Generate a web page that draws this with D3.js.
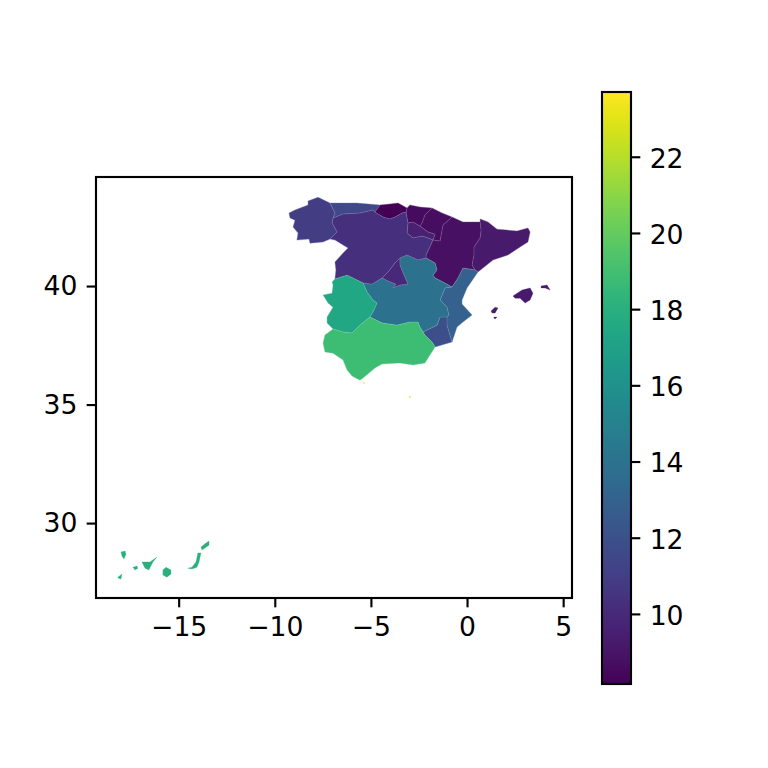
<!DOCTYPE html>
<html><head><meta charset="utf-8">
<script src="https://cdn.jsdelivr.net/npm/d3@7/dist/d3.min.js"></script>
<style>html,body{margin:0;padding:0;background:#fff}svg{display:block}text{font-family:"DejaVu Sans",sans-serif}</style>
</head><body><svg id="c" width="768" height="768"></svg>
<script>
const xTicks=[-15,-10,-5,0,5];
const yTicks=[30,35,40];
const cbTicks=[10,12,14,16,18,20,22];
const xDomain=[-19.30,5.46];
const yDomain=[26.84,44.60];
const cDomain=[8.16,23.7];

const galicia=[[[-7.13,43.50],[-6.87,43.08],[-6.97,42.87],[-7.02,42.66],[-6.76,42.28],[-7.13,41.98],[-7.49,41.86],[-8.17,41.81],[-8.22,41.98],[-8.85,41.94],[-8.79,42.24],[-9.05,42.49],[-8.95,42.78],[-9.21,42.87],[-9.26,43.08],[-8.95,43.21],[-8.27,43.42],[-8.27,43.59],[-7.75,43.75]]];
const asturias=[[[-7.13,43.50],[-6.61,43.50],[-5.72,43.50],[-4.53,43.42],[-4.63,43.29],[-4.79,43.12],[-4.89,43.21],[-5.57,43.08],[-6.45,43.04],[-6.97,42.87],[-6.87,43.08]]];
const cantabria=[[[-4.63,43.29],[-4.53,43.42],[-4.01,43.46],[-3.59,43.50],[-3.12,43.29],[-3.17,43.12],[-3.38,43.08],[-3.75,42.91],[-4.01,42.83],[-4.37,42.91],[-4.79,43.12]]];
const paisVasco=[[[-3.12,43.29],[-2.97,43.42],[-2.45,43.33],[-1.82,43.29],[-2.19,43.00],[-2.34,42.66],[-2.45,42.53],[-2.81,42.70],[-3.07,42.66],[-3.12,42.87],[-3.17,43.12]]];
const navarra=[[[-1.82,43.29],[-1.30,43.08],[-0.78,42.91],[-1.25,42.57],[-1.35,42.15],[-1.40,41.90],[-1.77,41.94],[-1.66,42.19],[-2.03,42.28],[-2.45,42.53],[-2.34,42.66],[-2.19,43.00]]];
const rioja=[[[-3.07,42.66],[-2.81,42.70],[-2.45,42.53],[-2.03,42.28],[-1.66,42.19],[-1.77,41.94],[-2.03,42.03],[-2.34,42.11],[-2.81,42.03],[-3.12,42.24]]];
const aragon=[[[-0.78,42.91],[-0.21,42.70],[0.68,42.70],[0.73,42.36],[0.68,42.03],[0.36,41.65],[0.36,41.31],[0.26,40.89],[0.42,40.68],[-0.21,40.76],[-0.47,40.34],[-0.78,39.96],[-1.25,40.17],[-1.66,40.34],[-1.77,40.46],[-1.56,40.68],[-1.66,40.97],[-2.03,41.14],[-2.13,41.18],[-2.13,41.31],[-1.93,41.65],[-1.82,41.86],[-1.77,41.94],[-1.40,41.90],[-1.35,42.15],[-1.25,42.57]]];
const cataluna=[[[0.68,42.70],[0.68,42.83],[1.09,42.70],[1.56,42.40],[2.08,42.36],[2.60,42.32],[3.17,42.45],[3.28,42.28],[3.17,41.86],[2.76,41.65],[2.13,41.31],[1.35,41.10],[0.83,40.76],[0.57,40.59],[0.42,40.68],[0.26,40.89],[0.36,41.31],[0.36,41.65],[0.68,42.03],[0.73,42.36]]];
const valencia=[[[-0.21,40.76],[0.42,40.68],[0.57,40.59],[0,39.92],[-0.26,39.41],[-0.26,39.24],[0.26,38.78],[-0.21,38.48],[-0.52,38.27],[-0.78,37.64],[-1.04,38.35],[-1.04,38.69],[-0.94,38.78],[-1.04,39.11],[-1.40,39.41],[-1.14,39.92],[-0.78,39.96],[-0.47,40.34]]];
const murcia=[[[-2.29,38.06],[-1.56,38.35],[-1.40,38.69],[-1.04,38.69],[-1.04,38.35],[-0.78,37.64],[-1.66,37.43],[-1.82,37.64],[-2.19,37.93]]];
const castillaMancha=[[[-3.49,41.18],[-3.12,41.31],[-2.55,41.10],[-2.13,41.18],[-2.03,41.14],[-1.66,40.97],[-1.56,40.68],[-1.77,40.46],[-1.66,40.34],[-1.25,40.17],[-0.78,39.96],[-1.14,39.92],[-1.40,39.41],[-1.04,39.11],[-0.94,38.78],[-1.04,38.69],[-1.40,38.69],[-1.56,38.35],[-2.29,38.06],[-2.45,38.27],[-2.55,38.48],[-2.97,38.48],[-3.64,38.35],[-4.42,38.44],[-5.05,38.69],[-4.89,38.90],[-4.68,39.28],[-4.89,39.41],[-5.20,39.75],[-5.41,40.13],[-4.94,40.08],[-4.42,40.34],[-4.11,40.21],[-3.69,40.08],[-3.85,39.92],[-3.49,40.04],[-3.07,40.08],[-3.33,40.55],[-3.49,40.89]]];
const madrid=[[[-3.49,41.18],[-3.75,40.97],[-4.11,40.59],[-4.42,40.34],[-4.11,40.21],[-3.69,40.08],[-3.85,39.92],[-3.49,40.04],[-3.07,40.08],[-3.33,40.55],[-3.49,40.89]]];
const castillaLeon=[[[-6.97,42.87],[-6.45,43.04],[-5.57,43.08],[-4.89,43.21],[-4.79,43.12],[-4.37,42.91],[-4.01,42.83],[-3.75,42.91],[-3.38,43.08],[-3.17,43.12],[-3.12,42.87],[-3.07,42.66],[-3.12,42.24],[-2.81,42.03],[-2.34,42.11],[-2.03,42.03],[-1.77,41.94],[-1.82,41.86],[-1.93,41.65],[-2.13,41.31],[-2.13,41.18],[-2.55,41.10],[-3.12,41.31],[-3.49,41.18],[-3.75,40.97],[-4.11,40.59],[-4.42,40.34],[-4.94,40.08],[-5.41,40.13],[-6.24,40.46],[-6.87,40.30],[-6.82,40.68],[-6.87,41.01],[-6.45,41.39],[-6.19,41.60],[-6.87,41.94],[-7.13,41.98],[-6.76,42.28],[-7.02,42.66]]];
const extremadura=[[[-7.02,40.17],[-6.87,40.30],[-6.24,40.46],[-5.41,40.13],[-5.20,39.75],[-4.89,39.41],[-4.68,39.28],[-4.89,38.90],[-5.05,38.69],[-5.57,38.35],[-5.98,38.02],[-6.45,38.06],[-6.97,38.19],[-7.28,38.44],[-7.28,38.69],[-6.97,39.11],[-7.23,39.28],[-7.49,39.62],[-7.02,39.70],[-6.97,40.04]]];
const andalucia=[[[-5.05,38.69],[-4.42,38.44],[-3.64,38.35],[-2.97,38.48],[-2.55,38.48],[-2.45,38.27],[-2.29,38.06],[-2.19,37.93],[-1.82,37.64],[-1.66,37.43],[-1.93,37.09],[-2.19,36.75],[-2.81,36.67],[-3.49,36.75],[-4.42,36.71],[-4.79,36.54],[-5.41,36.12],[-5.57,36.03],[-5.98,36.20],[-6.24,36.46],[-6.45,36.88],[-6.97,37.17],[-7.39,37.22],[-7.49,37.60],[-7.39,37.93],[-6.97,38.19],[-6.45,38.06],[-5.98,38.02],[-5.57,38.35]]];
const baleares=[
 [[2.39,39.58],[2.86,39.83],[3.28,39.92],[3.43,39.70],[3.28,39.41],[3.02,39.28],[2.76,39.49],[2.50,39.49]],
 [[3.85,40.00],[4.16,40.04],[4.32,39.83],[4.06,39.92],[3.85,39.92]],
 [[1.25,38.95],[1.46,39.11],[1.61,39.07],[1.46,38.86],[1.30,38.86]],
 [[1.40,38.69],[1.56,38.69],[1.46,38.61],[1.40,38.65]]];
const canarias=[
 [[-18.00,28.78],[-17.79,28.82],[-17.74,28.69],[-17.85,28.48],[-17.95,28.61]],
 [[-18.16,27.72],[-17.95,27.85],[-18.00,27.64],[-18.16,27.68]],
 [[-17.38,28.14],[-17.17,28.19],[-17.12,28.10],[-17.27,28.02]],
 [[-16.91,28.36],[-16.49,28.36],[-16.13,28.57],[-16.34,28.36],[-16.55,28.02],[-16.75,28.10]],
 [[-15.82,28.02],[-15.66,28.14],[-15.40,28.02],[-15.40,27.85],[-15.61,27.72],[-15.82,27.81]],
 [[-14.52,28.10],[-14.31,28.14],[-14.10,28.36],[-14.00,28.74],[-13.84,28.74],[-13.94,28.36],[-14.05,28.14],[-14.31,28.06]],
 [[-13.84,28.99],[-13.58,29.16],[-13.42,29.24],[-13.42,29.07],[-13.63,28.95],[-13.79,28.86]]];
const ceuta=[[[-5.42,35.93],[-5.30,35.93],[-5.36,35.87]]];
const melilla=[[[-3.02,35.34],[-2.93,35.34],[-2.97,35.28]]];

const regionShapes=[galicia,asturias,cantabria,paisVasco,navarra,rioja,aragon,cataluna,valencia,murcia,castillaMancha,madrid,castillaLeon,extremadura,andalucia,baleares,canarias,ceuta,melilla];
const regionValues=[10.9,11.5,8.2,8.6,8.7,9.6,8.8,9.2,12.9,11.9,14.0,9.9,10.3,17.4,18.8,9.2,18.0,23.7,23.0];

const svg=d3.select("#c");
const x=d3.scaleLinear().domain(xDomain).range([96,572]);
const y=d3.scaleLinear().domain(yDomain).range([598,177]);
const color=d3.scaleSequential(d3.interpolateViridis).domain(cDomain);
const line=d3.line().x(d=>x(d[0])).y(d=>y(d[1])).curve(d3.curveLinearClosed);
const fmt=d=>String(d).replace("-","\u2212");

svg.append("g").selectAll("path").data(regionShapes).join("path")
 .attr("d",d=>d.map(p=>line(p)).join(""))
 .attr("fill",(d,i)=>color(regionValues[i]))
 .attr("stroke",(d,i)=>color(regionValues[i]))
 .attr("stroke-width",0.3);
// thin pale seams between regions
svg.append("g").selectAll("path").data(regionShapes.slice(0,15)).join("path")
 .attr("d",d=>d.map(p=>line(p)).join(""))
 .attr("fill","none").attr("stroke","#fff").attr("stroke-opacity",0.15).attr("stroke-width",0.6);

function styleAxis(g){
 g.selectAll("text").style("font-size","26.67px").style("font-family",'"DejaVu Sans"').attr("fill","#000");
 g.selectAll("line").attr("stroke","#000").attr("stroke-width",2.13);
 g.select(".domain").remove();
}
svg.append("g").attr("transform","translate(0,598)")
 .call(d3.axisBottom(x).tickValues(xTicks).tickFormat(fmt).tickSize(9.33).tickPadding(9.33)).call(styleAxis);
svg.append("g").attr("transform","translate(96,0)")
 .call(d3.axisLeft(y).tickValues(yTicks).tickFormat(fmt).tickSize(9.33).tickPadding(9.33)).call(styleAxis);
svg.append("rect").attr("x",96).attr("y",177).attr("width",476).attr("height",421)
 .attr("fill","none").attr("stroke","#000").attr("stroke-width",2.13);

// colour bar
const cy=d3.scaleLinear().domain(cDomain).range([684,92]);
const defs=svg.append("defs");
const grad=defs.append("linearGradient").attr("id","vir").attr("x1",0).attr("x2",0).attr("y1",1).attr("y2",0);
grad.selectAll("stop").data(d3.range(0,1.0001,0.02)).join("stop")
 .attr("offset",d=>d).attr("stop-color",d=>d3.interpolateViridis(d));
svg.append("rect").attr("x",602).attr("y",92).attr("width",29).attr("height",592).attr("fill","url(#vir)");
svg.append("g").attr("transform","translate(631,0)")
 .call(d3.axisRight(cy).tickValues(cbTicks).tickFormat(fmt).tickSize(9.33).tickPadding(9.33)).call(styleAxis)
 .selectAll("text").attr("dy","0.39em");
svg.append("rect").attr("x",602).attr("y",92).attr("width",29).attr("height",592)
 .attr("fill","none").attr("stroke","#000").attr("stroke-width",2.13);
</script></body></html>
